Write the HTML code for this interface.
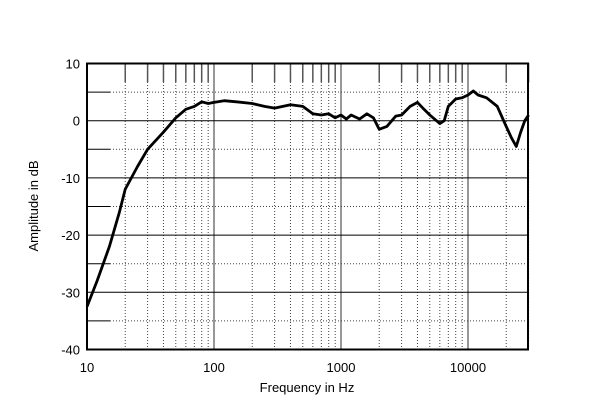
<!DOCTYPE html><html><head><style>body{margin:0;background:#fff}svg{display:block;font-family:"Liberation Sans",sans-serif}</style></head><body>
<svg id="s" width="600" height="414" xmlns="http://www.w3.org/2000/svg"></svg>
<script>
const s=document.getElementById('s');let h='';
const X=f=>87+127*Math.log10(f/10), Y=d=>63.5+(10-d)*5.72;
// minor verticals
for(let dec=10;dec<=10000;dec*=10)for(let m=2;m<=9;m++){const f=dec*m;if(f>30000)break;const x=X(f);
h+=`<line x1="${x}" y1="63" x2="${x}" y2="82" stroke="#555" stroke-width="1.5"/><line x1="${x}" y1="82" x2="${x}" y2="349" stroke="#444" stroke-width="1" stroke-dasharray="1,2"/>`;}
[100,1000,10000].forEach(f=>{const x=X(f);h+=`<line x1="${x}" y1="63" x2="${x}" y2="349" stroke="#777" stroke-width="1.5"/>`});
for(let d=5;d>-40;d-=10){const y=Y(d);h+=`<line x1="87" y1="${y}" x2="110" y2="${y}" stroke="#000"/><line x1="110" y1="${y}" x2="528" y2="${y}" stroke="#444" stroke-dasharray="1,2"/>`;}
for(let d=0;d>-40;d-=10){const y=Y(d);h+=`<line x1="87" y1="${y}" x2="528" y2="${y}" stroke="#000" stroke-width="1"/>`;}
h+=`<rect x="87" y="63.5" width="441" height="286" fill="none" stroke="#000" stroke-width="2"/>`;
for(let d=10;d>=-40;d-=10)h+=`<text x="80" y="${Y(d)+5}" text-anchor="end" font-size="13">${d}</text>`;
[[10,'10'],[100,'100'],[1000,'1000'],[10000,'10000']].forEach(([f,t])=>h+=`<text x="${X(f)}" y="372" text-anchor="middle" font-size="13">${t}</text>`);
h+=`<text x="307" y="392" text-anchor="middle" font-size="13">Frequency in Hz</text>`;
h+=`<text transform="translate(38,206) rotate(-90)" text-anchor="middle" font-size="13">Amplitude in dB</text>`;
const p=[[10,-32.5],[12,-28],[15,-22],[18,-16],[20,-12],[25,-8],[30,-5],[40,-2],[50,0.5],[60,2],[70,2.5],[80,3.3],[90,3],[100,3.2],[120,3.5],[150,3.3],[200,3],[250,2.5],[300,2.2],[400,2.8],[500,2.5],[600,1.2],[700,1],[800,1.2],[900,0.5],[1000,1],[1100,0.3],[1200,1],[1400,0.3],[1600,1.2],[1800,0.5],[2000,-1.5],[2300,-1],[2700,0.8],[3000,1],[3500,2.5],[4000,3.2],[4500,2],[5000,1],[6000,-0.5],[6500,0],[7000,2.5],[8000,3.8],[9000,4],[10000,4.5],[11000,5.2],[12000,4.5],[14000,4],[17000,2.5],[20000,-1],[22000,-3],[24000,-4.5],[26000,-2],[28000,0],[30000,1]];
h+=`<polyline fill="none" stroke="#000" stroke-width="2.8" stroke-linejoin="round" points="${p.map(([f,d])=>X(f).toFixed(1)+','+Y(d).toFixed(1)).join(' ')}"/>`;
s.innerHTML=h;
</script></body></html>
